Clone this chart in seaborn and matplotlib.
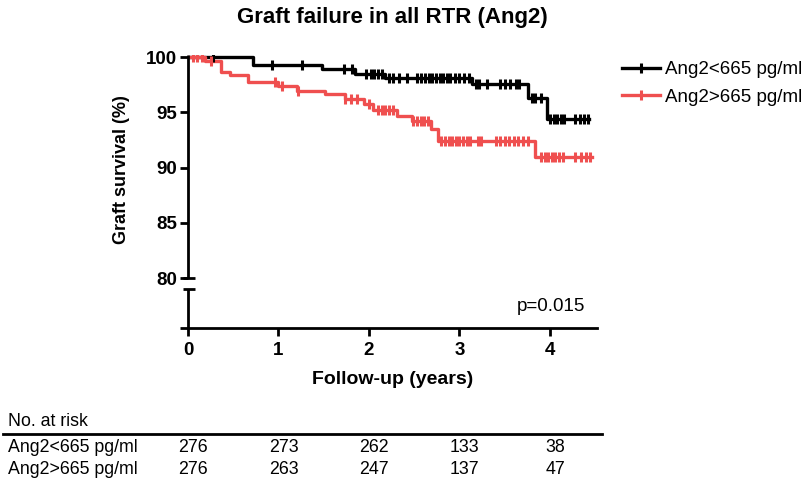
import numpy as np
import pandas as pd
import seaborn as sns
import matplotlib.pyplot as plt
import matplotlib.transforms as mtransforms
from matplotlib.lines import Line2D

# step curves (time in years, survival in %)
low_times = [0, 0.72, 1.48, 1.85, 2.18, 3.14, 3.76, 3.97, 4.43]
low_surv = [100, 99.27, 98.9, 98.5, 98.15, 97.6, 96.3, 94.4, 94.4]
high_times = [0, 0.19, 0.37, 0.46, 0.66, 0.99, 1.21, 1.51, 1.73, 1.94, 2.05, 2.31, 2.48, 2.68, 2.76, 3.84, 4.46]
high_surv = [100, 99.64, 98.7, 98.4, 97.75, 97.35, 96.95, 96.65, 96.25, 95.75, 95.25, 94.65, 94.25, 93.5, 92.4, 91.0, 91.0]

# censoring marks
low_censor = [0.28, 0.93, 1.26, 1.72, 1.81, 1.97, 2.02, 2.06, 2.1, 2.14, 2.22, 2.27, 2.33, 2.42,
              2.53, 2.58, 2.62, 2.66, 2.7, 2.74, 2.78, 2.82, 2.86, 2.9, 2.95, 3.0, 3.05, 3.1,
              3.18, 3.22, 3.3, 3.45, 3.5, 3.56, 3.62, 3.66, 3.8, 3.84, 3.9, 4.0, 4.04, 4.08,
              4.12, 4.16, 4.28, 4.33, 4.38, 4.42]
high_censor = [0.06, 0.1, 0.15, 0.25, 0.96, 1.04, 1.22, 1.74, 1.8, 1.87, 2.0, 2.1, 2.14, 2.18,
               2.22, 2.26, 2.49, 2.53, 2.57, 2.61, 2.65, 2.8, 2.84, 2.88, 2.92, 2.96, 3.0, 3.04,
               3.08, 3.12, 3.2, 3.24, 3.4, 3.45, 3.5, 3.55, 3.6, 3.65, 3.7, 3.76, 3.9, 3.94,
               3.98, 4.02, 4.06, 4.1, 4.14, 4.28, 4.34, 4.4, 4.44]

groups = ['Ang2<665 pg/ml', 'Ang2>665 pg/ml']
colors = ['#000000', '#EF4F4F']
risk_times = [0, 1, 2, 3, 4]
risk_low = [276, 273, 262, 133, 38]
risk_high = [276, 263, 247, 137, 47]
p_text = 'p=0.015'

y_bottom = 75.48
y_top = 100.2

plt.rcParams['font.family'] = ['Liberation Sans', 'DejaVu Sans']

df = pd.concat([
    pd.DataFrame({'time': low_times, 'survival': low_surv, 'group': groups[0]}),
    pd.DataFrame({'time': high_times, 'survival': high_surv, 'group': groups[1]}),
])

fig = plt.figure(figsize=(8.09, 4.87), dpi=100)
ax = fig.add_axes([188 / 809, 1 - 328 / 487, 409 / 809, 273 / 487])

sns.lineplot(data=df, x='time', y='survival', hue='group', palette=colors,
             drawstyle='steps-post', linewidth=2.4, legend=False, ax=ax,
             estimator=None, sort=False)

# censor ticks sit on the step curve
for times, surv, cens, col in [(low_times, low_surv, low_censor, colors[0]),
                               (high_times, high_surv, high_censor, colors[1])]:
    idx = np.searchsorted(times, cens, side='right') - 1
    ax.plot(cens, np.array(surv)[idx], linestyle='', marker='|', markersize=6.5,
            markeredgewidth=2.2, color=col)

ax.set_xlim(0, 4.52)
ax.set_ylim(y_bottom, y_top)
ax.set_xticks(risk_times)
ax.set_xticklabels([str(t) for t in risk_times], fontweight='bold', fontsize=13.5)
ax.set_yticks([y_bottom, 80, 85, 90, 95, 100])
ax.set_yticklabels(['', '80', '85', '90', '95', '100'], fontweight='bold', fontsize=13.5)
ax.tick_params(axis='both', direction='out', length=6, width=2)
ax.tick_params(axis='x', pad=4)
ax.tick_params(axis='y', pad=2)

for side in ['top', 'right', 'left']:
    ax.spines[side].set_visible(False)
ax.spines['bottom'].set_linewidth(2)

# broken y axis
ytrans = mtransforms.blended_transform_factory(ax.transAxes, ax.transData)
brk = 79.0
ax.plot([0, 0], [80, y_top], color='black', lw=2, transform=ytrans, clip_on=False,
        solid_capstyle='butt')
ax.plot([0, 0], [y_bottom, brk], color='black', lw=2, transform=ytrans, clip_on=False,
        solid_capstyle='butt')
for yb in [80, brk]:
    ax.plot([-0.013, 0.018], [yb, yb], color='black', lw=2, transform=ytrans,
            clip_on=False, solid_capstyle='butt')

ax.set_xlabel('Follow-up (years)', fontweight='bold', fontsize=14, labelpad=9)
ax.set_ylabel('Graft survival (%)', fontweight='bold', fontsize=13)
ax.yaxis.set_label_coords(-0.143, 0.58)

ax.text(0.97, 0.08, p_text, transform=ax.transAxes, ha='right', va='center', fontsize=13.5)

fig.text(392 / 809, 1 - 18 / 487, 'Graft failure in all RTR (Ang2)', ha='center',
         va='center', fontweight='bold', fontsize=16)

handles = [Line2D([0], [0], color=c, lw=2.4, marker='|', markersize=6.5, markeredgewidth=2.2)
           for c in colors]
fig.legend(handles, groups, loc='upper left', bbox_to_anchor=(622 / 809, 1 - 61 / 487),
           frameon=False, fontsize=13.5, handlelength=2.0, handletextpad=0.3,
           labelspacing=0.55, borderpad=0, borderaxespad=0, numpoints=1)

# number at risk table
tx = mtransforms.blended_transform_factory(ax.transData, fig.transFigure)
fig.text(8 / 809, 1 - 422 / 487, 'No. at risk', ha='left', va='center', fontsize=12.8)
fig.add_artist(Line2D([3 / 809, 602 / 809], [1 - 434 / 487, 1 - 434 / 487], color='black', lw=2))
for row_y, label, vals in [(448, groups[0], risk_low), (470, groups[1], risk_high)]:
    fig.text(8 / 809, 1 - row_y / 487, label, ha='left', va='center', fontsize=12.8)
    for t, v in zip(risk_times, vals):
        fig.text(t + 0.06, 1 - row_y / 487, str(v), ha='center', va='center',
                 fontsize=12.8, transform=tx)

fig.savefig('out.png', dpi=100)
